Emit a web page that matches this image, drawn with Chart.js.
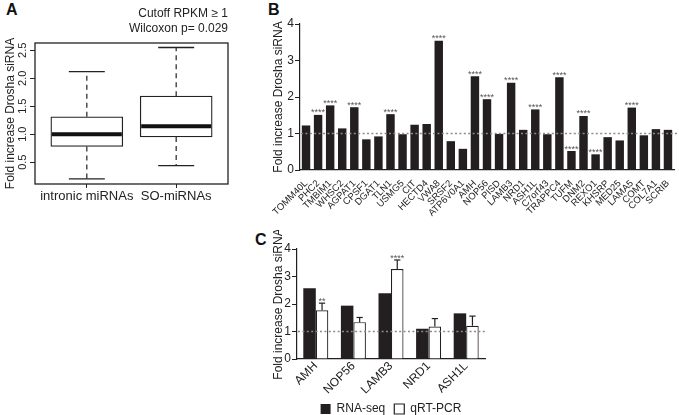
<!DOCTYPE html>
<html>
<head>
<meta charset="utf-8">
<script src="https://cdn.jsdelivr.net/npm/chart.js@4.4.1/dist/chart.umd.min.js"></script>
<style>
  html, body { margin: 0; padding: 0; background: #fff; overflow: hidden; }
  body { width: 679px; height: 415px; position: relative; font-family: "Liberation Sans", Arial, sans-serif; }
  canvas { position: absolute; }
  .tag { position: absolute; font-weight: bold; font-size: 16px; color: #111; line-height: 16px; }
</style>
</head>
<body>
<div class="tag" style="left:6px;top:2px">A</div>
<div class="tag" style="left:268px;top:2px">B</div>
<div class="tag" style="left:255px;top:232px">C</div>
<canvas id="chartA" width="240" height="212" style="left:0;top:0"></canvas>
<canvas id="chartB" width="421" height="240" style="left:258px;top:0"></canvas>
<canvas id="chartC" width="240" height="202" style="left:250px;top:230px"></canvas>
<script>
'use strict';
// panel A - box plot summary
var boxGroups = ['intronic miRNAs', 'SO-miRNAs'];
var boxMin = [0.20, 0.44];
var boxQ1 = [0.78, 0.95];
var boxMedian = [1.00, 1.14];
var boxQ3 = [1.31, 1.68];
var boxMax = [2.12, 2.55];
var boxTicks = [0.5, 1.0, 1.5, 2.0, 2.5];
var boxTitle = ['Cutoff RPKM \u2265 1', 'Wilcoxon p= 0.029'];

// panel B - fold change per gene
var genes = ['TOMM40L', 'PHC2', 'TMBIM1', 'WHSC2', 'AGPAT1', 'CPSF1', 'DGAT1', 'TLN1', 'USMG5', 'CIT',
  'HECTD4', 'VWA8', 'SRSF2', 'ATP6V0A1', 'AMH', 'NOP56', 'PISD', 'LAMB3', 'NRD1', 'ASH1L',
  'C7orf43', 'TRAPPC4', 'TUFM', 'DNM2', 'REXO1', 'KHSRP', 'MED25', 'LAMA5', 'COMT', 'COL7A1', 'SCRIB'];
var geneFold = [1.22, 1.51, 1.77, 1.14, 1.72, 0.84, 0.92, 1.53, 0.98, 1.24,
  1.26, 3.54, 0.79, 0.58, 2.57, 1.94, 0.99, 2.39, 1.10, 1.66,
  0.98, 2.54, 0.52, 1.48, 0.43, 0.90, 0.81, 1.71, 0.95, 1.12, 1.10];
var geneStars = ['', '****', '****', '', '****', '', '', '****', '', '',
  '', '****', '', '', '****', '****', '', '****', '', '****',
  '', '****', '****', '****', '****', '', '', '****', '', '', ''];

// panel C - validation
var checkGenes = ['AMH', 'NOP56', 'LAMB3', 'NRD1', 'ASH1L'];
var rnaSeq = [2.57, 1.94, 2.39, 1.10, 1.66];
var qpcr = [1.77, 1.34, 3.27, 1.18, 1.21];
var qpcrErr = [0.26, 0.17, 0.33, 0.29, 0.35];
var qpcrStars = ['**', '', '****', '', ''];
var foldTicks = [0, 1, 2, 3, 4];
var yTitle = 'Fold increase Drosha siRNA';

Chart.defaults.font.family = '"Liberation Sans", Arial, sans-serif';
Chart.defaults.color = '#222';
Chart.defaults.animation = false;
Chart.defaults.plugins.legend.display = false;
Chart.defaults.plugins.tooltip.enabled = false;

var ink = '#231f20';

function strokeLine(ctx, x1, y1, x2, y2) {
  ctx.beginPath();
  ctx.moveTo(x1, y1);
  ctx.lineTo(x2, y2);
  ctx.stroke();
}

// whiskers, median, frame and the upright y labels of the box plot
var boxPlugin = {
  id: 'boxExtras',
  afterDatasetsDraw: function (chart) {
    var ctx = chart.ctx;
    var ys = chart.scales.y;
    var area = chart.chartArea;
    var bars = chart.getDatasetMeta(0).data;
    ctx.save();
    ctx.strokeStyle = '#222';
    for (var i = 0; i < bars.length; i++) {
      var cx = bars[i].x;
      var half = bars[i].width / 2;
      var yTop = ys.getPixelForValue(boxMax[i]);
      var yBot = ys.getPixelForValue(boxMin[i]);
      ctx.lineWidth = 1.2;
      ctx.setLineDash([5, 4]);
      strokeLine(ctx, cx, ys.getPixelForValue(boxQ3[i]), cx, yTop);
      strokeLine(ctx, cx, ys.getPixelForValue(boxQ1[i]), cx, yBot);
      ctx.setLineDash([]);
      ctx.lineWidth = 1.3;
      strokeLine(ctx, cx - half / 2, yTop, cx + half / 2, yTop);
      strokeLine(ctx, cx - half / 2, yBot, cx + half / 2, yBot);
      ctx.lineWidth = 4;
      ctx.strokeStyle = '#111';
      var ym = ys.getPixelForValue(boxMedian[i]);
      strokeLine(ctx, cx - half + 1, ym, cx + half - 1, ym);
      ctx.strokeStyle = '#222';
    }
    ctx.lineWidth = 1.3;
    ctx.strokeRect(area.left, area.top, area.width, area.height);
    // R style: tick labels turned parallel to the axis
    ctx.fillStyle = '#222';
    ctx.font = '11px "Liberation Sans", Arial, sans-serif';
    ctx.textAlign = 'center';
    ctx.textBaseline = 'middle';
    boxTicks.forEach(function (v) {
      ctx.save();
      ctx.translate(area.left - 12, ys.getPixelForValue(v));
      ctx.rotate(-Math.PI / 2);
      ctx.fillText(v.toFixed(1), 0, 0);
      ctx.restore();
    });
    ctx.restore();
  }
};

// dotted reference line at 1, stars and error bars
var markPlugin = {
  id: 'marks',
  afterDatasetsDraw: function (chart, args, opts) {
    var ctx = chart.ctx;
    var ys = chart.scales.y;
    var area = chart.chartArea;
    ctx.save();
    ctx.strokeStyle = '#8a8a8a';
    ctx.lineWidth = 1.6;
    ctx.setLineDash([2, 2.4]);
    var y1 = ys.getPixelForValue(1);
    strokeLine(ctx, area.left + 1, y1, area.right + opts.extend, y1);
    ctx.setLineDash([]);
    var bars = chart.getDatasetMeta(opts.dataset).data;
    var errs = opts.errors;
    ctx.strokeStyle = ink;
    ctx.lineWidth = 1.2;
    ctx.fillStyle = '#555';
    ctx.font = '9px "Liberation Sans", Arial, sans-serif';
    ctx.textAlign = 'center';
    ctx.textBaseline = 'alphabetic';
    for (var i = 0; i < bars.length; i++) {
      var top = bars[i].y;
      if (errs) {
        var values = chart.data.datasets[opts.dataset].data;
        var yErr = ys.getPixelForValue(values[i] + errs[i]);
        var w = bars[i].width / 4;
        strokeLine(ctx, bars[i].x, top, bars[i].x, yErr);
        strokeLine(ctx, bars[i].x - w, yErr, bars[i].x + w, yErr);
        top = yErr;
      }
      if (opts.stars[i]) {
        ctx.fillText(opts.stars[i], bars[i].x, top + 0.5);
      }
    }
    ctx.restore();
  }
};

// the legend sits a little closer to the slanted labels than the box layout gives
var legendLift = {
  id: 'legendLift',
  afterLayout: function (chart, args, opts) {
    chart.legend.top -= opts.by;
    chart.legend.bottom -= opts.by;
  }
};

function fixedWidth(w) {
  return function (scale) { scale.width = w; };
}
function fixedHeight(h) {
  return function (scale) { scale.height = h; };
}

new Chart(document.getElementById('chartA'), {
  type: 'bar',
  data: {
    datasets: [{
      data: boxGroups.map(function (g, i) { return { x: i + 1, y: [boxQ1[i], boxQ3[i]] }; }),
      backgroundColor: '#fff',
      borderColor: '#222',
      borderWidth: 1.3,
      borderSkipped: false,
      barThickness: 72
    }]
  },
  options: {
    responsive: false,
    layout: { padding: { right: 12 } },
    plugins: {
      title: {
        display: true,
        text: boxTitle,
        align: 'end',
        color: '#222',
        font: { size: 12, weight: 'normal', lineHeight: 1.25 },
        padding: { top: 6, bottom: 7 }
      }
    },
    scales: {
      x: {
        type: 'linear',
        offset: false,
        min: 0.42,
        max: 2.58,
        afterBuildTicks: function (scale) {
          scale.ticks = boxGroups.map(function (g, i) { return { value: i + 1 }; });
        },
        afterFit: fixedHeight(28),
        border: { display: false },
        grid: { display: true, offset: false, drawOnChartArea: false, drawTicks: true, tickLength: 4, color: '#222' },
        ticks: {
          font: { size: 13 },
          padding: 1,
          minRotation: 0,
          maxRotation: 0,
          callback: function (v) { return boxGroups[v - 1]; }
        }
      },
      y: {
        min: 0.11,
        max: 2.63,
        afterBuildTicks: function (scale) {
          scale.ticks = boxTicks.map(function (v) { return { value: v }; });
        },
        afterFit: fixedWidth(35),
        border: { display: false },
        grid: { display: true, drawOnChartArea: false, drawTicks: true, tickLength: 5, color: '#222' },
        ticks: { display: false },
        title: { display: true, text: yTitle, font: { size: 12 }, padding: { top: 3, bottom: 0 } }
      }
    }
  },
  plugins: [boxPlugin]
});

new Chart(document.getElementById('chartB'), {
  type: 'bar',
  data: {
    labels: genes,
    datasets: [{
      data: geneFold,
      backgroundColor: ink,
      borderWidth: 0,
      barPercentage: 0.7,
      categoryPercentage: 1
    }]
  },
  options: {
    responsive: false,
    layout: { padding: { top: 24, right: 5 } },
    plugins: {
      marks: { dataset: 0, stars: geneStars, errors: null, extend: 5 }
    },
    scales: {
      x: {
        afterFit: fixedHeight(70),
        border: { display: true, color: ink, width: 1.2 },
        grid: { display: false },
        ticks: { font: { size: 9.5 }, minRotation: 45, maxRotation: 45, padding: 0, autoSkip: false }
      },
      y: {
        min: 0,
        max: 4,
        afterBuildTicks: function (scale) {
          scale.ticks = foldTicks.map(function (v) { return { value: v }; });
        },
        afterFit: fixedWidth(42),
        border: { display: true, color: ink, width: 1.2 },
        grid: { display: true, drawOnChartArea: false, drawTicks: true, tickLength: 5, color: ink },
        ticks: { font: { size: 12 }, padding: 1 },
        title: { display: true, text: yTitle, font: { size: 12 }, padding: { top: 13, bottom: 0 } }
      }
    }
  },
  plugins: [markPlugin]
});

new Chart(document.getElementById('chartC'), {
  type: 'bar',
  data: {
    labels: checkGenes,
    datasets: [{
      label: 'RNA-seq',
      data: rnaSeq,
      backgroundColor: ink,
      borderColor: ink,
      borderWidth: 0,
      barPercentage: 1,
      categoryPercentage: 0.665
    }, {
      label: 'qRT-PCR',
      data: qpcr,
      backgroundColor: '#fff',
      borderColor: ink,
      borderWidth: 1.2,
      barPercentage: 1,
      categoryPercentage: 0.665
    }]
  },
  options: {
    responsive: false,
    layout: { padding: { top: 19, right: 5 } },
    plugins: {
      legend: {
        display: true,
        position: 'bottom',
        fullSize: false,
        labels: { boxWidth: 10, boxHeight: 10, padding: 9, font: { size: 12 }, color: '#222' }
      },
      legendLift: { by: 7 },
      marks: { dataset: 1, stars: qpcrStars, errors: qpcrErr, extend: 2 }
    },
    scales: {
      x: {
        afterFit: fixedHeight(42),
        border: { display: true, color: ink, width: 1.2 },
        grid: { display: false },
        ticks: { font: { size: 12 }, minRotation: 45, maxRotation: 45, padding: -8 }
      },
      y: {
        min: 0,
        max: 4,
        afterBuildTicks: function (scale) {
          scale.ticks = foldTicks.map(function (v) { return { value: v }; });
        },
        afterFit: fixedWidth(47),
        border: { display: true, color: ink, width: 1.2 },
        grid: { display: true, drawOnChartArea: false, drawTicks: true, tickLength: 5, color: ink },
        ticks: { font: { size: 12 }, padding: 1 },
        title: { display: true, text: yTitle, font: { size: 12 }, padding: { top: 21, bottom: 0 } }
      }
    }
  },
  plugins: [markPlugin, legendLift]
});
</script>
</body>
</html>
